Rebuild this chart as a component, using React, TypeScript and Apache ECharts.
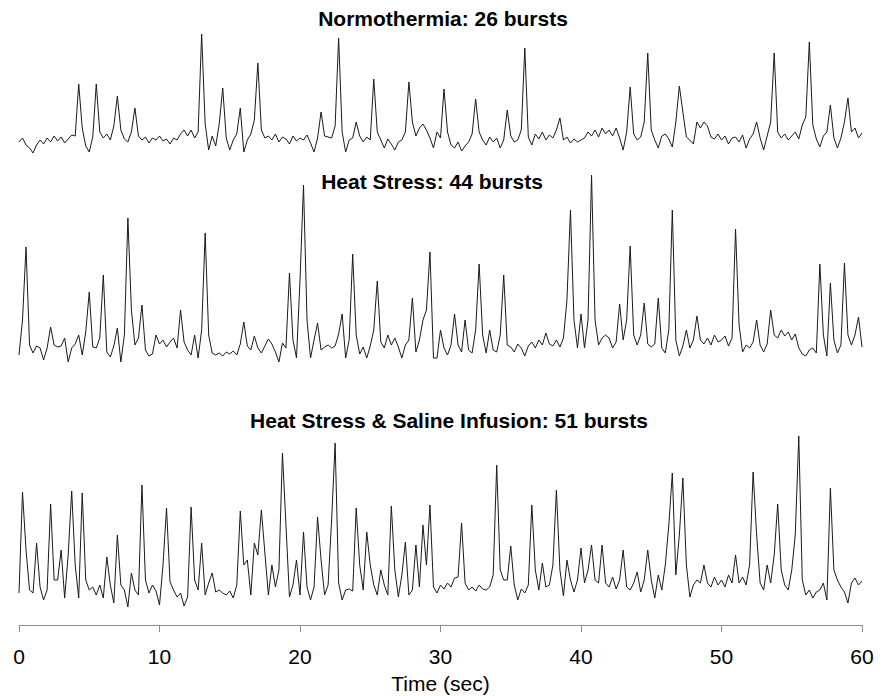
import React, { useEffect, useRef } from "react";
import * as echarts from "echarts";

// Sampling interval of the traces (seconds)
const SAMPLE_STEP = 0.25;
const X_MIN = 0;
const X_MAX = 60;
const X_INTERVAL = 10;

const TITLES = [
  "Normothermia: 26 bursts",
  "Heat Stress: 44 bursts",
  "Heat Stress & Saline Infusion: 51 bursts",
];

// Integrated nerve activity (arbitrary units above baseline), one value every 0.25 s
const NORMOTHERMIA = [
  0, 4, -3, -6, -11, -3, 2, -2, 4, 0, 6, 1, 5, -1, 3, 7,
  6, 58, 14, -4, -10, 5, 58, 10, 4, 8, 2, 16, 46, 12, 3, 0,
  10, 34, 6, 2, 5, -1, 4, 2, 6, 1, 3, -2, 4, 2, 8, 12,
  6, 12, 4, 10, 108, 18, -8, 6, -4, 18, 54, 4, -8, 2, 8, 34,
  -10, 2, 8, 22, 79, 12, 4, 6, 2, 8, 0, 5, 3, -2, 6, 1,
  4, 2, 7, -1, -10, 4, 30, 6, 5, 4, 16, 104, 10, -10, 2, 4,
  20, 6, 0, 5, 2, 63, 10, 2, -6, 3, -2, -8, 0, 2, 10, 60,
  20, 6, 14, 18, 12, 4, -6, 10, 4, 53, 10, -3, -6, 0, -9, -4,
  0, 8, 43, 10, 2, -3, 5, 0, 4, -6, 2, 32, 6, 0, 2, 12,
  94, 5, -3, 8, 3, 10, 2, 7, 4, 12, 24, 2, 5, -1, 3, 0,
  2, 4, 10, 6, 12, 5, 14, 8, 12, 6, 14, 4, -8, 10, 55, 8,
  2, 5, 20, 89, 12, 2, -6, 6, 8, 3, -5, 20, 56, 30, 5, 2,
  -2, 20, 14, 20, 16, 5, 3, 8, 2, 6, -2, 4, 5, 0, 7, -6,
  3, 8, 20, 4, -8, 6, 20, 89, 10, 4, 8, 2, 6, 10, 3, 17,
  25, 100, 17, 3, -5, 6, 10, 37, 4, -6, 4, 20, 44, 10, 14, 4,
  9,
];

const HEAT_STRESS = [
  -5, 30, 103, 5, -3, 4, 2, -10, 2, 23, 5, 3, 4, 12, -12, 2,
  6, 15, -5, 18, 58, 3, 2, 12, 75, -2, -7, 4, 22, -12, 15, 132,
  40, 5, 12, 45, 0, -6, -4, 15, 6, 10, 3, 8, 12, 2, 40, 8,
  0, -5, 15, -8, 20, 117, 15, -3, -5, -3, -6, -2, -4, -1, -5, 6,
  28, 4, 0, 14, 2, -3, 4, 11, 6, -2, -12, 7, 2, 77, 10, -8,
  70, 165, 30, -8, 10, 27, 0, 3, 5, 2, 4, 16, 36, -8, 10, 96,
  15, -4, 3, -8, 4, 20, 69, 8, 2, 15, 5, 12, 3, -8, 5, 10,
  52, -2, 10, 30, 40, 98, -8, -8, 20, 2, -5, 5, 36, 5, -2, 30,
  0, -3, 20, 86, 15, -3, 20, 0, -2, 15, 75, 5, 3, -2, 6, 2,
  -6, 4, 8, 2, 10, 5, 17, 6, 4, 10, 3, 12, 50, 140, 30, 2,
  36, 2, 30, 175, 30, 5, 12, 15, 12, 2, 8, 46, 10, 30, 104, 15,
  5, 15, 47, 6, 3, 6, 52, 2, -3, 20, 140, 10, -6, 4, 20, 2,
  10, 34, 10, 6, 12, 5, 15, 8, 10, 14, 4, 12, 121, 25, -2, 5,
  2, 8, 30, 5, -2, 6, 40, 15, 12, 20, 14, 18, 10, 16, 2, -4,
  -6, 0, 2, -3, 86, 15, -6, 67, 10, -3, 5, 87, 15, 5, 15, 33,
  3,
];

const HEAT_SALINE = [
  2, 103, 45, 5, 2, 52, 8, -5, 5, 91, 15, 15, 45, -3, 40, 104,
  30, -3, 102, 15, 5, 8, 0, 10, -3, 38, 10, -8, 60, 10, 5, -12,
  22, 5, 0, 110, 15, 2, 10, 4, -10, 30, 87, 13, 5, -2, 2, -11,
  -2, 88, 15, 5, 52, 0, 12, 22, 3, 5, 2, 0, 4, -3, 10, 84,
  30, 35, 0, 52, 40, 85, 42, 0, 30, 8, 25, 142, 70, -2, 10, 35,
  0, 63, 8, -5, 8, 78, 35, 0, 10, 75, 152, 12, -5, 5, 6, 4,
  87, 30, 5, 63, 30, 10, 0, 25, 10, 0, 89, 25, -2, 20, 53, 0,
  5, 50, 8, 70, 30, 90, 8, 2, 10, 6, 12, 8, 17, 18, 72, 12,
  5, 8, 4, 10, 6, 5, 8, 20, 130, 25, 15, 15, 49, 10, -5, 6,
  2, 10, 90, 25, 5, 32, 8, 10, 30, 105, 25, -1, 35, 15, 3, 15,
  47, 12, 25, 50, 15, 12, 50, 12, 8, 18, 6, 15, 45, 8, 5, 12,
  23, 3, 15, 45, 15, -3, 20, 5, 30, 70, 122, 20, 60, 117, 30, -2,
  10, 15, 12, 30, 12, 8, 18, 10, 15, 8, 20, 12, 40, 12, 18, 10,
  30, 123, 60, 12, 5, 30, 12, 40, 91, 25, 10, 5, 25, 60, 159, 15,
  0, 5, -3, 3, 5, 12, -5, 107, 25, 15, 8, 3, -8, 12, 17, 10,
  14,
];

const TRACES = [NORMOTHERMIA, HEAT_STRESS, HEAT_SALINE];

const FONT = '"Liberation Sans", Arial, Helvetica, sans-serif';

const toPairs = (vals: number[]) => vals.map((v, i) => [i * SAMPLE_STEP, v]);

export default function App() {
  const ref = useRef<HTMLDivElement>(null);

  useEffect(() => {
    if (!ref.current) return;
    const chart = echarts.init(ref.current, undefined, { renderer: "svg" });

    const grids = [
      { left: 19, right: 26, top: 30, height: 125 },
      { left: 19, right: 26, top: 170, height: 195 },
      { left: 19, right: 26, top: 430, height: 195 },
    ];
    const yRanges = [
      [-13, 112],
      [-15, 180],
      [-30, 165],
    ];
    const titlePos = [
      [443, 18],
      [432, 181],
      [449, 420],
    ];

    const option: any = {
      animation: false,
      backgroundColor: "#ffffff",
      grid: grids,
      xAxis: [0, 1, 2].map((g) =>
        g < 2
          ? { gridIndex: g, type: "value", min: X_MIN, max: X_MAX, show: false }
          : {
              gridIndex: g,
              type: "value",
              position: "bottom",
              min: X_MIN,
              max: X_MAX,
              interval: X_INTERVAL,
              axisLine: { show: true, onZero: false, lineStyle: { color: "#8c8c8c", width: 1 } },
              axisTick: { show: true, length: 7, lineStyle: { color: "#8c8c8c", width: 1 } },
              splitLine: { show: false },
              axisLabel: { fontSize: 21, color: "#000", margin: 21, fontFamily: FONT },
              name: "Time (sec)",
              nameLocation: "middle",
              nameGap: 48,
              nameTextStyle: { fontSize: 21, color: "#000", fontFamily: FONT },
            }
      ),
      yAxis: [0, 1, 2].map((g) => ({
        gridIndex: g,
        type: "value",
        min: yRanges[g][0],
        max: yRanges[g][1],
        show: false,
      })),
      series: TRACES.map((vals, g) => ({
        type: "line",
        xAxisIndex: g,
        yAxisIndex: g,
        data: toPairs(vals),
        showSymbol: false,
        symbol: "none",
        lineStyle: { color: "#1a1a1a", width: 1 },
        silent: true,
      })),
      graphic: TITLES.map((t, i) => ({
        type: "text",
        x: titlePos[i][0],
        y: titlePos[i][1],
        style: {
          text: t,
          align: "center",
          verticalAlign: "middle",
          font: `bold 21px ${FONT}`,
          fill: "#000",
        },
      })),
    };

    chart.setOption(option);
    return () => chart.dispose();
  }, []);

  return (
    <div
      ref={ref}
      style={{ position: "absolute", left: 0, top: 0, width: 888, height: 696 }}
    />
  );
}
